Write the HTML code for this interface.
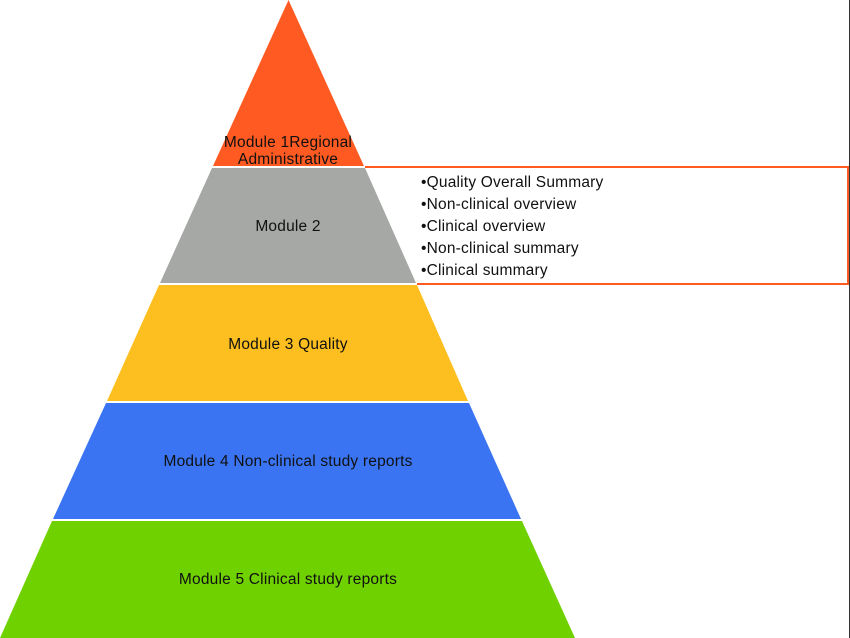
<!DOCTYPE html>
<html><head><meta charset="utf-8"><style>
html,body{margin:0;padding:0;background:#fff;}
svg{display:block;}
text{font-family:"Liberation Sans",sans-serif;font-size:15.5px;fill:#111;letter-spacing:0.2px;}
</style></head><body>
<svg width="850" height="638" viewBox="0 0 850 638">
<rect x="0" y="0" width="850" height="638" fill="#fff"/>
<polygon points="288.5,0 364,166 213,166" fill="#ff5a22"/>
<polygon points="212,168 365,168 416,283 160,283" fill="#a5a8a4"/>
<polygon points="159,285 417,285 468,401 107,401" fill="#fdbf1f"/>
<polygon points="106,403 469,403 521,519 53,519" fill="#3a74f2"/>
<polygon points="52,521 522,521 575,638 0,638" fill="#6fd100"/>
<polyline points="365,167 848,167 848,284 417,284" fill="none" stroke="#ff5a22" stroke-width="2"/>
<rect x="849" y="0" width="1" height="638" fill="#333"/>
<text x="288" y="147" text-anchor="middle">Module 1Regional</text>
<text x="288" y="164" text-anchor="middle">Administrative</text>
<text x="288" y="231" text-anchor="middle">Module 2</text>
<text x="288" y="349" text-anchor="middle">Module 3 Quality</text>
<text x="288" y="466" text-anchor="middle">Module 4 Non-clinical study reports</text>
<text x="288" y="584" text-anchor="middle">Module 5 Clinical study reports</text>
<text x="421" y="187">•Quality Overall Summary</text>
<text x="421" y="209">•Non-clinical overview</text>
<text x="421" y="231">•Clinical overview</text>
<text x="421" y="253">•Non-clinical summary</text>
<text x="421" y="275">•Clinical summary</text>
</svg>
</body></html>
